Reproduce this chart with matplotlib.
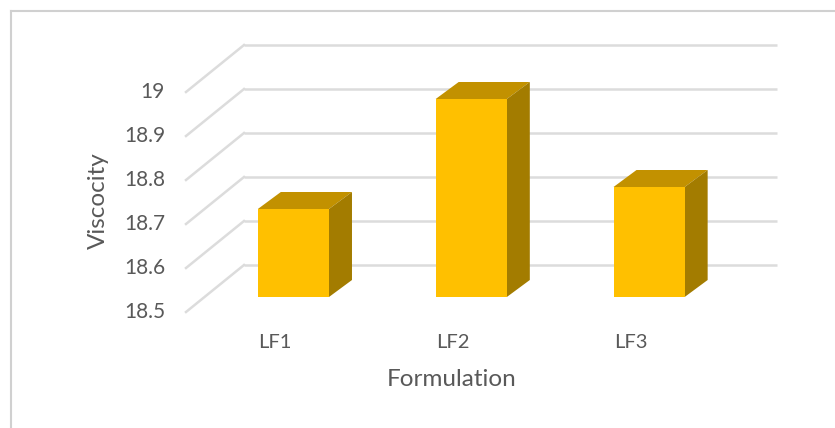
import matplotlib
matplotlib.use("Agg")
import matplotlib.pyplot as plt
from matplotlib.patches import Polygon
from matplotlib.lines import Line2D

categories = ["LF1", "LF2", "LF3"]
values = [18.70, 18.95, 18.75]
yticks = [18.5, 18.6, 18.7, 18.8, 18.9, 19.0]
xlabel = "Formulation"
ylabel = "Viscocity"

W, H = 835, 428
fig = plt.figure(figsize=(W / 100, H / 100), dpi=100)
fig.patch.set_facecolor("white")
plt.rcParams['font.family'] = ['Lato', 'DejaVu Sans']

# axes for the plane in which the bar fronts sit
x0_px, x1_px = 204.5, 738.0
ybot_px, ytop_px = 297.0, 77.0
ax = fig.add_axes([x0_px / W, (H - ybot_px) / H, (x1_px - x0_px) / W, (ybot_px - ytop_px) / H])
ax.set_xlim(-0.5, len(categories) - 0.5)
ax.set_ylim(yticks[0], yticks[-1])
ax.axis("off")

ppx = (x1_px - x0_px) / len(categories)
ppy = (ybot_px - ytop_px) / (yticks[-1] - yticks[0])

# depth vectors (pixel -> data units)
back_dx, back_dy = 39.5 / ppx, 32.0 / ppy
front_dx, front_dy = -18.5 / ppx, -15.0 / ppy
bar_dx, bar_dy = 23.0 / ppx, 17.0 / ppy

grid_c = "#DCDCDC"
text_c = "#595959"
xl, xr = -0.5, len(categories) - 0.5

for v in yticks:
    # back wall gridline
    ax.plot([xl + back_dx, xr + back_dx], [v + back_dy, v + back_dy], color=grid_c,
            lw=1.8, clip_on=False, zorder=1, solid_capstyle="butt")
    # side wall diagonal
    ax.plot([xl + front_dx, xl + back_dx], [v + front_dy, v + back_dy], color=grid_c,
            lw=1.8, clip_on=False, zorder=1)
    ax.text(xl + front_dx - 21.0 / ppx, v + front_dy, f"{v:g}", ha="right", va="center",
            fontsize=15, color=text_c)

bw = 0.4
front_c, top_c, side_c = "#FFC000", "#C29100", "#A37C00"
base = yticks[0]
for i, v in enumerate(values):
    a, b = i - bw / 2, i + bw / 2
    ax.bar(i, v - base, bottom=base, width=bw, color=front_c, zorder=5, clip_on=False)
    top = Polygon([(a, v), (b, v), (b + bar_dx, v + bar_dy), (a + bar_dx, v + bar_dy)],
                  closed=True, facecolor=top_c, edgecolor="none", zorder=4, clip_on=False)
    side = Polygon([(b, base), (b, v), (b + bar_dx, v + bar_dy), (b + bar_dx, base + bar_dy)],
                   closed=True, facecolor=side_c, edgecolor="none", zorder=4, clip_on=False)
    ax.add_patch(top)
    ax.add_patch(side)
    ax.text(i + front_dx, base + front_dy - 31.0 / ppy, categories[i], ha="center", va="center",
            fontsize=14.5, color=text_c)

fig.text(452 / W, 1 - 379 / H, xlabel, ha="center", va="center", fontsize=17.5, color=text_c)
fig.text(98 / W, 1 - 201 / H, ylabel, ha="center", va="center", rotation=90, fontsize=17.5, color=text_c)

# chart border (left and top visible)
fig.add_artist(Line2D([10.5 / W, 10.5 / W], [0, 1 - 10.5 / H], color="#D0D0D0", lw=1.5))
fig.add_artist(Line2D([10.5 / W, 1], [1 - 10.5 / H, 1 - 10.5 / H], color="#D0D0D0", lw=1.5))

fig.savefig("out.png", dpi=100, facecolor="white")
